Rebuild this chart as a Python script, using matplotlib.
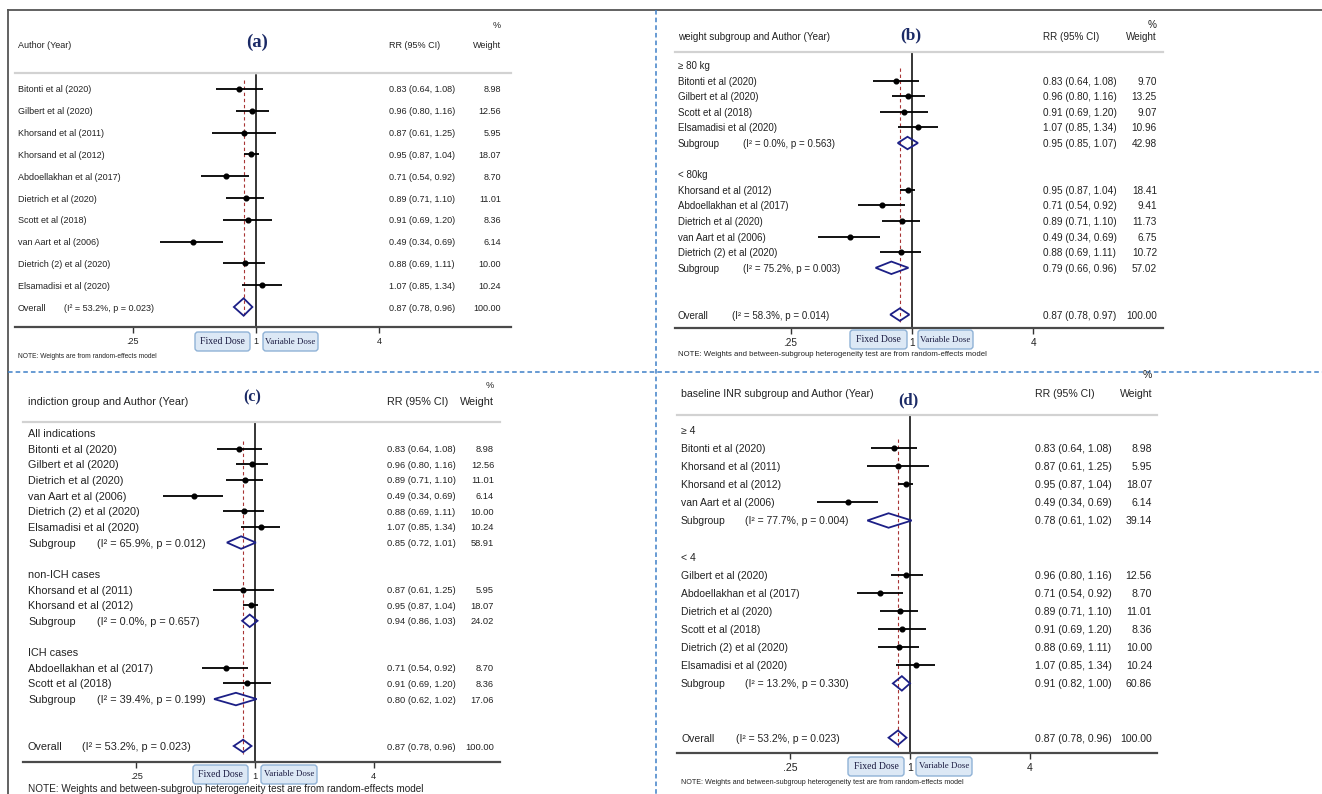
import numpy as np
import matplotlib
matplotlib.use('Agg')
from matplotlib import pyplot as plt
from matplotlib.patches import FancyBboxPatch, Polygon
from matplotlib.lines import Line2D
from matplotlib.ticker import NullLocator
import matplotlib.transforms as mtrans

plt.rcParams['font.family'] = ['Liberation Sans', 'DejaVu Sans']

W, H = 1322, 794

# ---------- panel (a): all studies
a_labels = ['Bitonti et al (2020)', 'Gilbert et al (2020)', 'Khorsand et al (2011)', 'Khorsand et al (2012)',
            'Abdoellakhan et al (2017)', 'Dietrich et al (2020)', 'Scott et al (2018)', 'van Aart et al (2006)',
            'Dietrich (2) et al (2020)', 'Elsamadisi et al (2020)', 'Overall']
a_rr = [0.83, 0.96, 0.87, 0.95, 0.71, 0.89, 0.91, 0.49, 0.88, 1.07, 0.87]
a_lo = [0.64, 0.80, 0.61, 0.87, 0.54, 0.71, 0.69, 0.34, 0.69, 0.85, 0.78]
a_hi = [1.08, 1.16, 1.25, 1.04, 0.92, 1.10, 1.20, 0.69, 1.11, 1.34, 0.96]
a_wt = [8.98, 12.56, 5.95, 18.07, 8.70, 11.01, 8.36, 6.14, 10.00, 10.24, 100.00]
a_het = ['(I² = 53.2%, p = 0.023)']

# ---------- panel (b): weight subgroups
b_labels = ['≥ 80 kg', 'Bitonti et al (2020)', 'Gilbert et al (2020)', 'Scott et al (2018)', 'Elsamadisi et al (2020)',
            'Subgroup', '', '< 80kg', 'Khorsand et al (2012)', 'Abdoellakhan et al (2017)', 'Dietrich et al (2020)',
            'van Aart et al (2006)', 'Dietrich (2) et al (2020)', 'Subgroup', '', '', 'Overall']
b_rr = [None, 0.83, 0.96, 0.91, 1.07, 0.95, None, None, 0.95, 0.71, 0.89, 0.49, 0.88, 0.79, None, None, 0.87]
b_lo = [None, 0.64, 0.80, 0.69, 0.85, 0.85, None, None, 0.87, 0.54, 0.71, 0.34, 0.69, 0.66, None, None, 0.78]
b_hi = [None, 1.08, 1.16, 1.20, 1.34, 1.07, None, None, 1.04, 0.92, 1.10, 0.69, 1.11, 0.96, None, None, 0.97]
b_wt = [None, 9.70, 13.25, 9.07, 10.96, 42.98, None, None, 18.41, 9.41, 11.73, 6.75, 10.72, 57.02, None, None, 100.00]
b_het = ['(I² = 0.0%, p = 0.563)', '(I² = 75.2%, p = 0.003)', '(I² = 58.3%, p = 0.014)']

# ---------- panel (c): indication groups
c_labels = ['All indications', 'Bitonti et al (2020)', 'Gilbert et al (2020)', 'Dietrich et al (2020)',
            'van Aart et al (2006)', 'Dietrich (2) et al (2020)', 'Elsamadisi et al (2020)', 'Subgroup', '',
            'non-ICH cases', 'Khorsand et al (2011)', 'Khorsand et al (2012)', 'Subgroup', '',
            'ICH cases', 'Abdoellakhan et al (2017)', 'Scott et al (2018)', 'Subgroup', '', '', 'Overall']
c_rr = [None, 0.83, 0.96, 0.89, 0.49, 0.88, 1.07, 0.85, None, None, 0.87, 0.95, 0.94, None,
        None, 0.71, 0.91, 0.80, None, None, 0.87]
c_lo = [None, 0.64, 0.80, 0.71, 0.34, 0.69, 0.85, 0.72, None, None, 0.61, 0.87, 0.86, None,
        None, 0.54, 0.69, 0.62, None, None, 0.78]
c_hi = [None, 1.08, 1.16, 1.10, 0.69, 1.11, 1.34, 1.01, None, None, 1.25, 1.04, 1.03, None,
        None, 0.92, 1.20, 1.02, None, None, 0.96]
c_wt = [None, 8.98, 12.56, 11.01, 6.14, 10.00, 10.24, 58.91, None, None, 5.95, 18.07, 24.02, None,
        None, 8.70, 8.36, 17.06, None, None, 100.00]
c_het = ['(I² = 65.9%, p = 0.012)', '(I² = 0.0%, p = 0.657)', '(I² = 39.4%, p = 0.199)',
         '(I² = 53.2%, p = 0.023)']

# ---------- panel (d): baseline INR subgroups
d_labels = ['≥ 4', 'Bitonti et al (2020)', 'Khorsand et al (2011)', 'Khorsand et al (2012)', 'van Aart et al (2006)',
            'Subgroup', '', '< 4', 'Gilbert et al (2020)', 'Abdoellakhan et al (2017)', 'Dietrich et al (2020)',
            'Scott et al (2018)', 'Dietrich (2) et al (2020)', 'Elsamadisi et al (2020)', 'Subgroup', '', '', 'Overall']
d_rr = [None, 0.83, 0.87, 0.95, 0.49, 0.78, None, None, 0.96, 0.71, 0.89, 0.91, 0.88, 1.07, 0.91, None, None, 0.87]
d_lo = [None, 0.64, 0.61, 0.87, 0.34, 0.61, None, None, 0.80, 0.54, 0.71, 0.69, 0.69, 0.85, 0.82, None, None, 0.78]
d_hi = [None, 1.08, 1.25, 1.04, 0.69, 1.02, None, None, 1.16, 0.92, 1.10, 1.20, 1.11, 1.34, 1.00, None, None, 0.96]
d_wt = [None, 8.98, 5.95, 18.07, 6.14, 39.14, None, None, 12.56, 8.70, 11.01, 8.36, 10.00, 10.24, 60.86,
        None, None, 100.00]
d_het = ['(I² = 77.7%, p = 0.004)', '(I² = 13.2%, p = 0.330)', '(I² = 53.2%, p = 0.023)']

note_short = 'NOTE: Weights are from random-effects model'
note_long = 'NOTE: Weights and between-subgroup heterogeneity test are from random-effects model'

# layout of each panel, in pixels of the final image
lay_a = dict(left=15, right=511, axis_y=327, one=256, ppu=61.7, row0=89, dy=21.8,
             y_pct=25, y_hdr=46, y_tag=42, y_sep=73, x_lab=18, het_sub=64, het_all=64,
             x_ci=389, x_wt=501, tag_x=257, box_y=(332, 351), fixed=(195, 250), var=(263, 318),
             note_y=357, fs_lab=6.5, fs_hdr=6.5, fs_ci=6.5, fs_note=4.8, fs_tag=13.5, red_top=-0.4)
lay_b = dict(left=675, right=1163, axis_y=328, one=912, ppu=60.7, row0=65, dy=15.6,
             y_pct=25, y_hdr=37, y_tag=35, y_sep=52, x_lab=678, het_sub=743, het_all=732,
             x_ci=1043, x_wt=1157, tag_x=911, box_y=(330, 349), fixed=(850, 907), var=(918, 973),
             note_y=354, fs_lab=7.0, fs_hdr=7.1, fs_ci=7.2, fs_note=5.6, fs_tag=12.5, red_top=0.2)
lay_c = dict(left=23, right=500, axis_y=762, one=255, ppu=59.3, row0=433, dy=15.65,
             y_pct=386, y_hdr=402, y_tag=397, y_sep=422, x_lab=28, het_sub=97, het_all=82,
             x_ci=387, x_wt=494, tag_x=252, box_y=(765, 784), fixed=(193, 248), var=(261, 317),
             note_y=789, fs_lab=7.8, fs_hdr=7.8, fs_ci=6.7, fs_note=7.2, fs_tag=11.5, red_top=0.5)
lay_d = dict(left=677, right=1157, axis_y=753, one=910, ppu=59.8, row0=430, dy=18.1,
             y_pct=375, y_hdr=394, y_tag=400, y_sep=415, x_lab=681, het_sub=745, het_all=736,
             x_ci=1035, x_wt=1152, tag_x=908, box_y=(757, 776), fixed=(848, 904), var=(916, 972),
             note_y=783, fs_lab=7.5, fs_hdr=7.6, fs_ci=7.6, fs_note=5.1, fs_tag=12, red_top=0.5)

TXT = '#222222'
NAVY = '#1c1f86'
TAGC = '#1b2a66'
RED = '#a83434'

fig = plt.figure(figsize=(W / 100, H / 100), dpi=100)


def fx(px):
    return px / W


def fy(py):
    return 1 - py / H


def dose_box(x0, x1, y0, y1, text, size):
    box = FancyBboxPatch((x0, H - y1), x1 - x0, y1 - y0, boxstyle='round,pad=0,rounding_size=3',
                         transform=mtrans.IdentityTransform(), fc='#dce8f5', ec='#8fb2d6', lw=1.0)
    fig.add_artist(box)
    fig.text(fx((x0 + x1) / 2), fy((y0 + y1) / 2), text, ha='center', va='center',
             fontsize=size, family=['Liberation Serif', 'DejaVu Serif'], color='#1a1a40')


def draw_panel(tag, head, note, labels, rr, lo, hi, wt, het, L):
    top = L['y_pct'] - 12
    ax = fig.add_axes([fx(L['left']), fy(L['axis_y']), (L['right'] - L['left']) / W, (L['axis_y'] - top) / H])
    ax.set_xscale('log', base=2)
    ax.set_xlim(2 ** ((L['left'] - L['one']) / L['ppu']), 2 ** ((L['right'] - L['one']) / L['ppu']))

    def row(py):
        return (py - L['row0']) / L['dy']

    ax.set_ylim(row(L['axis_y']), row(top))
    ax.patch.set_alpha(0)
    for s in ['top', 'left', 'right']:
        ax.spines[s].set_visible(False)
    ax.spines['bottom'].set_color('#4a4a4a')
    ax.spines['bottom'].set_linewidth(1.6)
    ax.set_yticks([])
    ax.set_xticks([0.25, 1, 4], ['.25', '1', '4'])
    ax.xaxis.set_minor_locator(NullLocator())
    ax.tick_params(axis='x', length=4.5, width=1, color='#333333', pad=2.5,
                   labelsize=L['fs_ci'], labelcolor=TXT)
    tr = mtrans.blended_transform_factory(fig.transFigure, ax.transData)

    iov = labels.index('Overall')
    ov = rr[iov]
    # reference lines
    ax.plot([1, 1], [row(L['y_sep']) + 0.08, row(L['axis_y'])], color='black', lw=1.1, zorder=2)
    ax.plot([ov, ov], [L['red_top'], iov + 0.5], color=RED, lw=0.8, ls=(0, (3, 2.5)), zorder=3)
    ax.plot(ax.get_xlim(), [row(L['y_sep'])] * 2, color='#d2d2d2', lw=1.6, clip_on=False)

    h = 0.4
    k = 0
    for i, lab in enumerate(labels):
        if lab == '':
            continue
        ax.text(fx(L['x_lab']), i, lab, transform=tr, ha='left', va='center_baseline',
                fontsize=L['fs_lab'], color=TXT)
        if rr[i] is None:
            continue
        if lab in ('Subgroup', 'Overall'):
            pts = np.column_stack([[lo[i], rr[i], hi[i], rr[i]], [i, i - h, i, i + h]])
            ax.add_patch(Polygon(pts, closed=True, fill=False, ec=NAVY, lw=1.3, zorder=4))
            xh = L['het_sub'] if lab == 'Subgroup' else L['het_all']
            ax.text(fx(xh), i, het[k], transform=tr, ha='left', va='center_baseline',
                    fontsize=L['fs_lab'], color=TXT)
            k += 1
        else:
            ax.plot([lo[i], hi[i]], [i, i], color='black', lw=1.3, solid_capstyle='butt', zorder=5)
            ax.plot(rr[i], i, 'o', color='black', ms=3.4, zorder=6)
        ax.text(fx(L['x_ci']), i, f'{rr[i]:.2f} ({lo[i]:.2f}, {hi[i]:.2f})', transform=tr,
                ha='left', va='center_baseline', fontsize=L['fs_ci'], color=TXT)
        ax.text(fx(L['x_wt']), i, f'{wt[i]:.2f}', transform=tr, ha='right', va='center_baseline',
                fontsize=L['fs_ci'], color=TXT)

    # header block
    fig.text(fx(L['x_wt']), fy(L['y_pct']), '%', ha='right', va='center', fontsize=L['fs_ci'], color=TXT)
    fig.text(fx(L['x_lab']), fy(L['y_hdr']), head, ha='left', va='center', fontsize=L['fs_hdr'], color=TXT)
    fig.text(fx(L['x_ci']), fy(L['y_hdr']), 'RR (95% CI)', ha='left', va='center', fontsize=L['fs_hdr'],
             color=TXT)
    fig.text(fx(L['x_wt']), fy(L['y_hdr']), 'Weight', ha='right', va='center', fontsize=L['fs_hdr'], color=TXT)
    fig.text(fx(L['tag_x']), fy(L['y_tag']), tag, ha='center', va='center', fontsize=L['fs_tag'],
             fontweight='bold', family=['Liberation Serif', 'DejaVu Serif'], color=TAGC)
    fig.text(fx(L['x_lab']), fy(L['note_y']), note, ha='left', va='center', fontsize=L['fs_note'], color=TXT)

    dose_box(L['fixed'][0], L['fixed'][1], L['box_y'][0], L['box_y'][1], 'Fixed Dose', 7.0)
    dose_box(L['var'][0], L['var'][1], L['box_y'][0], L['box_y'][1], 'Variable Dose', 6.4)
    return ax


draw_panel('(a)', 'Author (Year)', note_short, a_labels, a_rr, a_lo, a_hi, a_wt, a_het, lay_a)
draw_panel('(b)', 'weight subgroup and Author (Year)', note_long, b_labels, b_rr, b_lo, b_hi, b_wt, b_het, lay_b)
draw_panel('(c)', 'indiction group and Author (Year)', note_long, c_labels, c_rr, c_lo, c_hi, c_wt, c_het, lay_c)
draw_panel('(d)', 'baseline INR subgroup and Author (Year)', note_long, d_labels, d_rr, d_lo, d_hi, d_wt, d_het,
           lay_d)

# frame lines and dashed panel separators
fig.add_artist(Line2D([fx(8), 1], [fy(10), fy(10)], transform=fig.transFigure, color='#555555', lw=1.3))
fig.add_artist(Line2D([fx(8), fx(8)], [fy(10), 0], transform=fig.transFigure, color='#555555', lw=1.3))
fig.add_artist(Line2D([fx(656), fx(656)], [fy(10), 0], transform=fig.transFigure, color='#3f80c8', lw=1.1,
                      ls=(0, (3, 2))))
fig.add_artist(Line2D([fx(8), 1], [fy(372), fy(372)], transform=fig.transFigure, color='#3f80c8', lw=1.1,
                      ls=(0, (3, 2))))

fig.savefig('out.png', dpi=100)
